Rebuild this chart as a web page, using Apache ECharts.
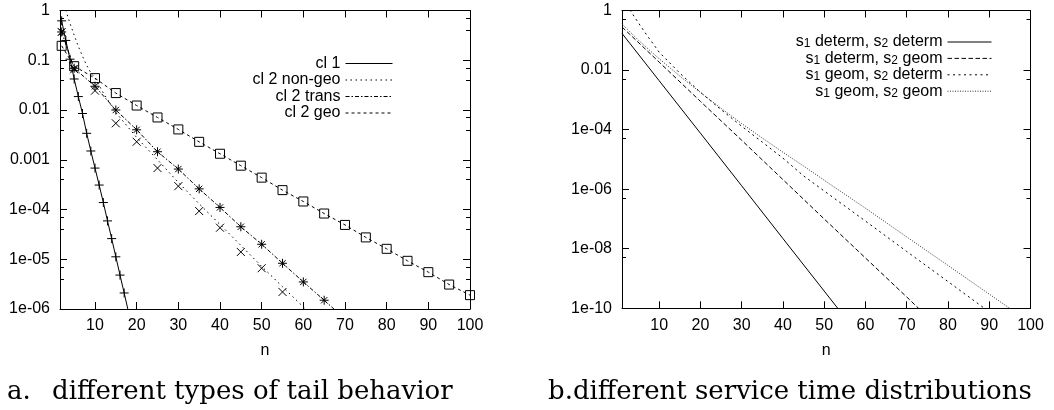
<!DOCTYPE html>
<html><head><meta charset="utf-8">
<script src="https://cdn.jsdelivr.net/npm/echarts@6/dist/echarts.min.js"></script>
<style>html,body{margin:0;padding:0;background:#fff}#c{width:1054px;height:410px}</style>
</head><body><div id="c"></div>
<script>
// ---------- Panel a: different types of tail behavior ----------
const nCl1 = [2,3,4,5,6,7,8,9,10,11,12,13,14,15,16,17,18];
const cl1 = [0.62,0.25,0.105,0.042,0.0186,0.0085,0.0034,0.0015,6.8e-4,3.1e-4,1.38e-4,5.9e-5,2.6e-5,1.12e-5,4.8e-6,2.1e-6,9e-7];

const nNonGeo = [2,3,4,5,6,7,8,9,10,12,15,20,25,30,35,40,45,50,55,60,65];
const nonGeo = [2.0,1.0,0.55,0.32,0.19,0.12,0.079,0.056,0.044,0.022,0.0089,0.0028,0.001,3.5e-4,1.3e-4,5.0e-5,1.9e-5,7.2e-6,2.8e-6,1.1e-6,4.3e-7];

const nStar = [2,5,10,15,20,25,30,35,40,45,50,55,60,65,70];
const trans = [0.37,0.069,0.030,0.010,0.004,1.45e-3,6.5e-4,2.6e-4,1.1e-4,4.5e-5,2.0e-5,8.3e-6,3.5e-6,1.5e-6,6.3e-7];

const nSq = [2,5,10,15,20,25,30,35,40,45,50,55,60,65,70,75,80,85,90,95,100];
const geo = [0.195,0.076,0.0437,0.0219,0.0123,0.00708,0.00407,0.00229,0.00132,7.6e-4,4.37e-4,2.45e-4,1.45e-4,8.3e-5,4.9e-5,2.75e-5,1.62e-5,9.3e-6,5.5e-6,3.1e-6,1.9e-6];

const nX = [2,5,10,15,20,25,30,35,40,45,50,55];
const xPts = [0.37,0.066,0.0245,0.0054,0.0023,6.8e-4,2.95e-4,9.3e-5,4.3e-5,1.4e-5,6.6e-6,2.2e-6];

const leftNames = ['cl 1','cl 2 non-geo','cl 2 trans','cl 2 geo'];

// ---------- Panel b: different service time distributions ----------
const nDD = [1,10,20,30,40,50,55];
const detDet = [0.17,4.4e-3,7.6e-5,1.3e-6,2.2e-8,3.8e-10,5e-11];
const nDG = [1,10,20,30,40,50,60,70,75];
const detGeo = [0.28,0.0185,8.9e-4,4.4e-5,2.1e-6,1.0e-7,4.9e-9,2.4e-10,5.2e-11];
const nGD = [1,2,3,5,7,10,15,20,25,30,35,40,45,50,60,70,80,90];
const geoDet = [3.2,1.66,1.0,0.38,0.15,0.04,7.9e-3,1.8e-3,4.7e-4,1.3e-4,3.8e-5,1.1e-5,2.8e-6,8.7e-7,8.5e-8,8.1e-9,7.9e-10,7.6e-11];
const nGG = [1,5,10,15,20,25,30,35,40,45,50,60,70,80,90,96];
const geoGeo = [0.355,0.1,0.024,6.3e-3,1.78e-3,5.2e-4,1.6e-4,5.2e-5,1.74e-5,6.0e-6,2.0e-6,2.3e-7,2.5e-8,2.75e-9,3.0e-10,7.9e-11];

const rightNames = ['s1 determ, s2 determ','s1 determ, s2 geom','s1 geom, s2 determ','s1 geom, s2 geom'];
const rightRich = {
  's1 determ, s2 determ': '{n|s}{b|1}{n| determ, s}{b|2}{n| determ}',
  's1 determ, s2 geom': '{n|s}{b|1}{n| determ, s}{b|2}{n| geom}',
  's1 geom, s2 determ': '{n|s}{b|1}{n| geom, s}{b|2}{n| determ}',
  's1 geom, s2 geom': '{n|s}{b|1}{n| geom, s}{b|2}{n| geom}'
};

const captionA = 'a.\u2002 different types of tail behavior';
const captionB = 'b.different service time distributions';

// ---------- helpers ----------
const FONT = '"Liberation Sans", Arial, Helvetica, sans-serif';
const SERIF = '26px "DejaVu Serif", "Liberation Serif", serif';
const pairs = (ns, vs) => ns.map((n, i) => [n, vs[i]]);
const fmtLog = v => {
  const e = Math.round(Math.log10(v));
  if (e >= 0) return String(Math.round(v));
  if (e >= -3) return Math.pow(10, e).toFixed(-e);
  return '1e-' + String(-e).padStart(2, '0');
};
const fmtX = v => (v >= 10 && Math.abs(v / 10 - Math.round(v / 10)) < 1e-6) ? String(Math.round(v)) : '';
const black = {color: '#000', width: 1};

function xAx(grid, min, top) {
  return {
    type: 'value', gridIndex: grid, min: min, max: 100, splitNumber: 10,
    position: top ? 'top' : 'bottom',
    axisLine: {show: true, lineStyle: black},
    axisTick: {show: true, inside: true, length: 7, lineStyle: black},
    axisLabel: {show: !top, formatter: fmtX, fontSize: 16, color: '#000', fontFamily: FONT, margin: 9},
    splitLine: {show: false},
    name: top ? '' : 'n', nameLocation: 'middle', nameGap: 34,
    nameTextStyle: {fontSize: 16, color: '#000', fontFamily: FONT}
  };
}
function yAx(grid, min, base, minorSplit, right) {
  return {
    type: 'log', gridIndex: grid, min: min, max: 1, logBase: base,
    position: right ? 'right' : 'left',
    axisLine: {show: true, lineStyle: black},
    axisTick: {show: true, inside: true, length: 7, lineStyle: black},
    minorTick: {show: true, splitNumber: minorSplit, length: 4, lineStyle: black},
    axisLabel: {show: !right, formatter: fmtLog, fontSize: 16, color: '#000', fontFamily: FONT, margin: 10},
    splitLine: {show: false}, minorSplitLine: {show: false}
  };
}
function line(name, x, y, data, dash, color) {
  return {
    type: 'line', name: name, xAxisIndex: x, yAxisIndex: y, data: data,
    symbol: 'none', showSymbol: false, silent: true, clip: true, animation: false,
    lineStyle: {color: color || '#000', width: 1, type: dash},
    itemStyle: {color: color || '#000'}
  };
}
function marks(x, y, data, path, size) {
  return {
    type: 'scatter', xAxisIndex: x, yAxisIndex: y, data: data, silent: true, clip: true,
    symbol: path, symbolSize: size, animation: false,
    itemStyle: {color: 'rgba(0,0,0,0)', borderColor: '#000', borderWidth: 1, opacity: 1}
  };
}
const PLUS = 'path://M0,5L10,5M5,0L5,10';
const CROSS = 'path://M0,0L10,10M10,0L0,10';
const STAR = 'path://M0,5L10,5M5,0L5,10M1.5,1.5L8.5,8.5M8.5,1.5L1.5,8.5';
const BOX = 'path://M0,0L10,0L10,10L0,10Z';

const option = {
  animation: false,
  backgroundColor: '#fff',
  textStyle: {fontFamily: FONT},
  grid: [
    {left: 60, top: 10.5, right: 584, bottom: 101, outerBoundsMode: 'none', containLabel: false},
    {left: 622, top: 10.5, right: 23.5, bottom: 101.7, outerBoundsMode: 'none', containLabel: false}
  ],
  xAxis: [xAx(0, 1.6, false), xAx(0, 1.6, true), xAx(1, 1, false), xAx(1, 1, true)],
  yAxis: [yAx(0, 1e-6, 10, 3, false), yAx(0, 1e-6, 10, 3, true), yAx(1, 1e-10, 100, 2, false), yAx(1, 1e-10, 100, 2, true)],
  legend: [
    {
      data: leftNames, orient: 'vertical', right: 656, top: 50.5, align: 'right',
      itemWidth: 47, itemHeight: 10, itemGap: 0.5, selectedMode: false,
      itemStyle: {opacity: 0},
      lineStyle: {width: 1},
      textStyle: {fontSize: 16, color: '#000', fontFamily: FONT, lineHeight: 16}
    },
    {
      data: rightNames, orient: 'vertical', right: 57, top: 29, align: 'right',
      itemWidth: 44, itemHeight: 10, itemGap: 0.4, selectedMode: false,
      itemStyle: {opacity: 0},
      lineStyle: {width: 1},
      formatter: name => rightRich[name],
      textStyle: {
        fontSize: 16, color: '#000', fontFamily: FONT, lineHeight: 16,
        rich: {
          n: {fontSize: 16, color: '#000', fontFamily: FONT, lineHeight: 16},
          b: {fontSize: 12, color: '#000', fontFamily: FONT, lineHeight: 4, verticalAlign: 'bottom'}
        }
      }
    }
  ],
  series: [
    line(leftNames[0], 0, 0, pairs(nCl1, cl1), 'solid'),
    line(leftNames[1], 0, 0, pairs(nNonGeo, nonGeo), [1.5, 3.5]),
    line(leftNames[2], 0, 0, pairs(nStar, trans), [4, 2, 1.5, 2]),
    line(leftNames[3], 0, 0, pairs(nSq, geo), [3, 3]),
    marks(0, 0, pairs(nCl1, cl1), PLUS, 9),
    marks(0, 0, pairs(nSq, geo), BOX, 9),
    marks(0, 0, pairs(nStar.slice(0, 14), trans.slice(0, 14)), STAR, 9),
    marks(0, 0, pairs(nX, xPts), CROSS, 8),
    line(rightNames[0], 2, 2, pairs(nDD, detDet), 'solid'),
    line(rightNames[1], 2, 2, pairs(nDG, detGeo), [4.5, 2.5]),
    line(rightNames[2], 2, 2, pairs(nGD, geoDet), [2, 3.5]),
    line(rightNames[3], 2, 2, pairs(nGG, geoGeo), [1, 1.5], '#333')
  ],
  graphic: [
    {type: 'text', x: 7, y: 392, silent: true,
     style: {text: captionA, font: SERIF, fill: '#000', textAlign: 'left', textVerticalAlign: 'middle', verticalAlign: 'middle'}},
    {type: 'text', x: 548, y: 392, silent: true,
     style: {text: captionB, font: SERIF, fill: '#000', textAlign: 'left', textVerticalAlign: 'middle', verticalAlign: 'middle'}}
  ]
};
const chart = echarts.init(document.getElementById('c'), null, {renderer: 'canvas'});
chart.setOption(option);
</script></body></html>
